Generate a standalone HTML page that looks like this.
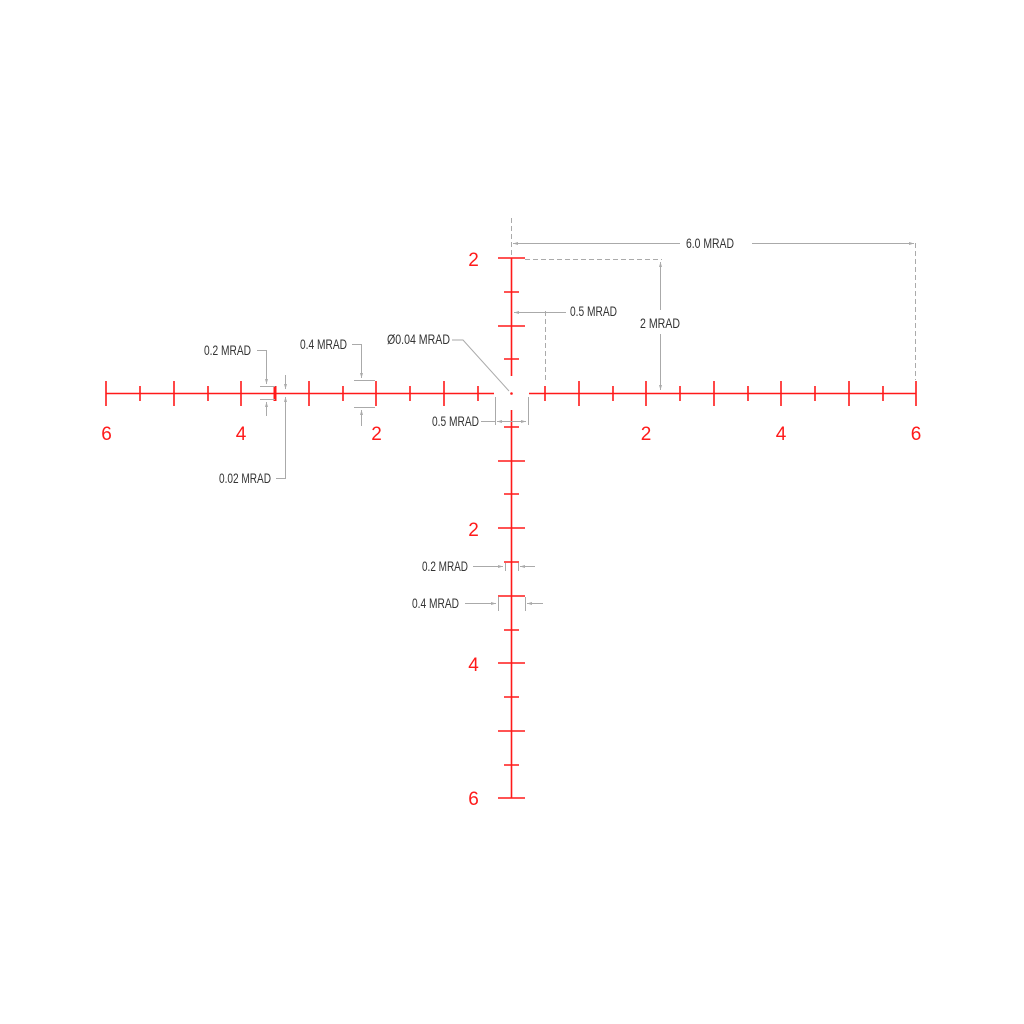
<!DOCTYPE html>
<html><head><style>html,body{margin:0;padding:0;background:#fff}svg{display:block}</style></head><body>
<svg width="1024" height="1024" viewBox="0 0 1024 1024" xmlns="http://www.w3.org/2000/svg">
<defs>
<marker id="a" viewBox="0 0 10 10" refX="10" refY="5" markerWidth="7" markerHeight="5" orient="auto-start-reverse"><path d="M0,2 L10,5 L0,8z" fill="#aaa"/></marker>
</defs>
<g stroke="#ff1a1a" stroke-width="1.6" fill="none">
<line x1="106" y1="393.5" x2="494" y2="393.5"/>
<line x1="529" y1="393.5" x2="916" y2="393.5"/>
<line x1="511.5" y1="258" x2="511.5" y2="376"/>
<line x1="511.5" y1="410" x2="511.5" y2="798"/>
<!-- horizontal ticks -->
<path d="M106,381V406 M174,381V406 M241,381V406 M309,381V406 M376,381V406 M444,381V406
M140,386V401 M208,386V401 M343,386V401 M410,386V401 M478,386V401
M579,381V406 M646,381V406 M714,381V406 M781,381V406 M849,381V406 M916,381V406
M545,386V401 M613,386V401 M680,386V401 M748,386V401 M815,386V401 M883,386V401"/>
<line x1="275" y1="386" x2="275" y2="401" stroke-width="3"/>
<!-- vertical ticks -->
<path d="M498,258H525 M498,326H525 M498,461H525 M498,528H525 M498,596H525 M498,663H525 M498,731H525 M498,798H525
M504,292H519 M504,359H519 M504,427H519 M504,494H519 M504,630H519 M504,697H519 M504,765H519 M504,562H519"/>
</g>
<circle cx="511.5" cy="393.5" r="1.3" fill="#ff1a1a"/>
<g fill="#ff1a1a" font-family="Liberation Sans, sans-serif" font-size="19" text-anchor="middle">
<text x="106.5" y="440">6</text><text x="241" y="440">4</text><text x="376.5" y="440">2</text>
<text x="646" y="440">2</text><text x="781" y="440">4</text><text x="916" y="440">6</text>
<text x="473.5" y="266">2</text><text x="473.5" y="536">2</text><text x="473.5" y="671">4</text><text x="473.5" y="805">6</text>
</g>
<g stroke="#aaa" stroke-width="1" fill="none">
<line x1="511.5" y1="218" x2="511.5" y2="256" stroke-dasharray="5,3"/>
<line x1="680" y1="243.5" x2="513" y2="243.5" marker-end="url(#a)"/>
<line x1="752" y1="243.5" x2="914" y2="243.5" marker-end="url(#a)"/>
<line x1="915.5" y1="243" x2="915.5" y2="380" stroke-dasharray="5,3"/>
<line x1="525" y1="259.5" x2="662" y2="259.5" stroke-dasharray="5,3"/>
<line x1="660.5" y1="310" x2="660.5" y2="262" marker-end="url(#a)"/>
<line x1="660.5" y1="334" x2="660.5" y2="390" marker-end="url(#a)"/>
<line x1="566" y1="312.5" x2="514" y2="312.5" marker-end="url(#a)"/>
<line x1="545.5" y1="311" x2="545.5" y2="380" stroke-dasharray="5,3"/>
<polyline points="452,340 463,340 509,391"/>
<line x1="481" y1="421.5" x2="495" y2="421.5"/>
<line x1="495.5" y1="397" x2="495.5" y2="425"/>
<line x1="528.5" y1="397" x2="528.5" y2="425"/>
<line x1="497" y1="421.5" x2="526" y2="421.5" marker-end="url(#a)" marker-start="url(#a)"/>
<!-- 0.2 left -->
<polyline points="257,350.5 266.5,350.5 266.5,384" marker-end="url(#a)"/>
<line x1="260" y1="386.5" x2="275" y2="386.5"/>
<line x1="260" y1="399.5" x2="275" y2="399.5"/>
<line x1="266.5" y1="416" x2="266.5" y2="402" marker-end="url(#a)"/>
<!-- 0.02 -->
<polyline points="276,478.5 285.5,478.5 285.5,397" marker-end="url(#a)"/>
<line x1="285.5" y1="375" x2="285.5" y2="389" marker-end="url(#a)"/>
<!-- 0.4 left -->
<polyline points="352,344.5 361.5,344.5 361.5,378" marker-end="url(#a)"/>
<line x1="354" y1="380.5" x2="375" y2="380.5"/>
<line x1="354" y1="407.5" x2="375" y2="407.5"/>
<line x1="361.5" y1="426" x2="361.5" y2="410" marker-end="url(#a)"/>
<!-- vertical 0.2 -->
<line x1="473" y1="566.5" x2="503" y2="566.5" marker-end="url(#a)"/>
<line x1="505.5" y1="563" x2="505.5" y2="571"/>
<line x1="518.5" y1="563" x2="518.5" y2="571"/>
<line x1="535" y1="566.5" x2="520" y2="566.5" marker-end="url(#a)"/>
<!-- vertical 0.4 -->
<line x1="465" y1="603.5" x2="496" y2="603.5" marker-end="url(#a)"/>
<line x1="498.5" y1="597" x2="498.5" y2="611"/>
<line x1="525.5" y1="597" x2="525.5" y2="611"/>
<line x1="543" y1="603.5" x2="527" y2="603.5" marker-end="url(#a)"/>
</g>
<g fill="#333" font-family="Liberation Sans, sans-serif" font-size="14" lengthAdjust="spacingAndGlyphs">
<text x="686" y="248" textLength="48" lengthAdjust="spacingAndGlyphs">6.0 MRAD</text>
<text x="640" y="328" textLength="40" lengthAdjust="spacingAndGlyphs">2 MRAD</text>
<text x="570" y="316" textLength="47" lengthAdjust="spacingAndGlyphs">0.5 MRAD</text>
<text x="387" y="344" textLength="63" lengthAdjust="spacingAndGlyphs">Ø0.04 MRAD</text>
<text x="432" y="426" textLength="47" lengthAdjust="spacingAndGlyphs">0.5 MRAD</text>
<text x="204" y="355" textLength="47" lengthAdjust="spacingAndGlyphs">0.2 MRAD</text>
<text x="300" y="349" textLength="47" lengthAdjust="spacingAndGlyphs">0.4 MRAD</text>
<text x="219" y="483" textLength="52" lengthAdjust="spacingAndGlyphs">0.02 MRAD</text>
<text x="422" y="571" textLength="46" lengthAdjust="spacingAndGlyphs">0.2 MRAD</text>
<text x="412" y="608" textLength="47" lengthAdjust="spacingAndGlyphs">0.4 MRAD</text>
</g>
</svg>
</body></html>
